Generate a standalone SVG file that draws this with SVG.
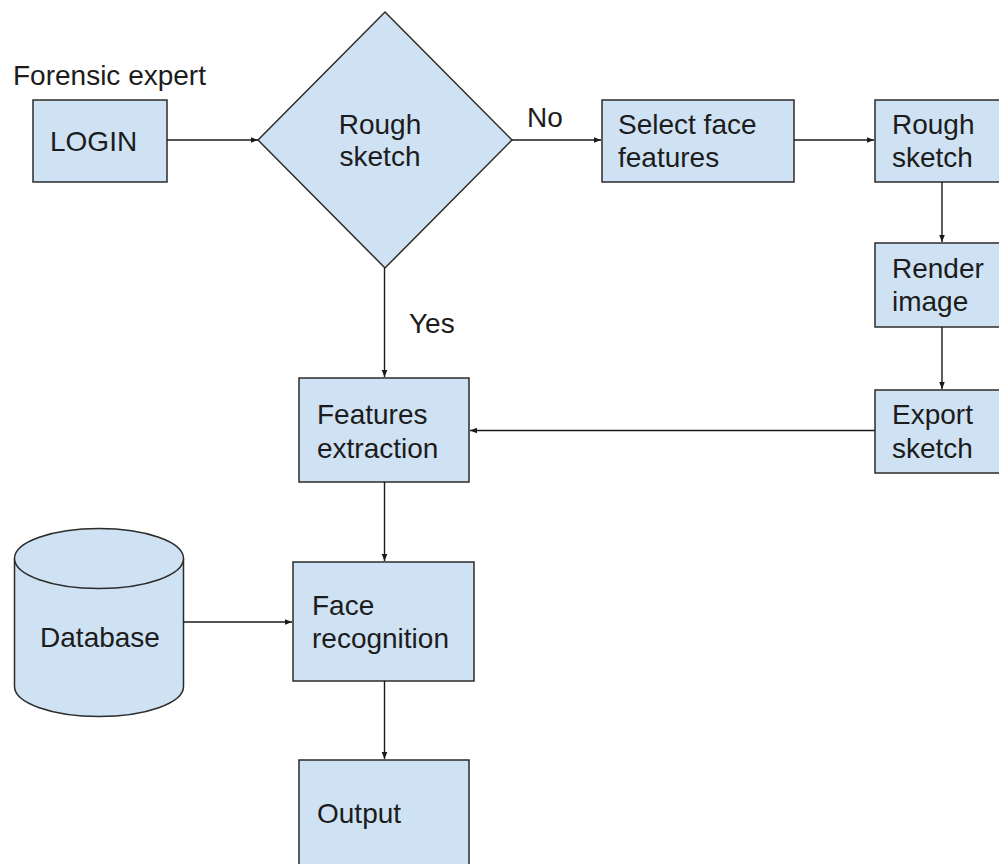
<svg xmlns="http://www.w3.org/2000/svg" width="999" height="864" viewBox="0 0 999 864">
<style>
.n{fill:#cfe2f3;stroke:#2b2b2b;stroke-width:1.5}
.t{font-family:"Liberation Sans",Arial,sans-serif;font-size:28px;fill:#1c1c1c}
.c{fill:none;stroke:#1a1a1a;stroke-width:1.4;marker-end:url(#a)}
</style>
<defs>
<marker id="a" viewBox="0 0 10 10" refX="10" refY="5" markerWidth="7" markerHeight="7" markerUnits="userSpaceOnUse" orient="auto">
<path d="M0,1 L10,5 L0,9 z" fill="#1a1a1a"/>
</marker>
</defs>
<rect width="999" height="864" fill="#fff"/>
<text class="t" x="13" y="85">Forensic expert</text>
<g id="login">
<rect class="n" x="33" y="100" width="134" height="82"/>
<text class="t" x="50" y="151">LOGIN</text>
</g>
<g id="decision">
<polygon class="n" points="385,12 512,140 385,268 258,140"/>
<text class="t" text-anchor="middle" x="380" y="134">Rough</text>
<text class="t" text-anchor="middle" x="380" y="166">sketch</text>
</g>
<g id="select">
<rect class="n" x="602" y="100" width="192" height="82"/>
<text class="t" x="618" y="134">Select face</text>
<text class="t" x="618" y="167">features</text>
</g>
<g id="rough2">
<rect class="n" x="875" y="100" width="126" height="82"/>
<text class="t" x="892" y="134">Rough</text>
<text class="t" x="892" y="167">sketch</text>
</g>
<g id="render">
<rect class="n" x="875" y="243" width="126" height="84"/>
<text class="t" x="892" y="278">Render</text>
<text class="t" x="892" y="311">image</text>
</g>
<g id="export">
<rect class="n" x="875" y="390" width="126" height="83"/>
<text class="t" x="892" y="424">Export</text>
<text class="t" x="892" y="458">sketch</text>
</g>
<g id="features">
<rect class="n" x="299" y="378" width="170" height="104"/>
<text class="t" x="317" y="424">Features</text>
<text class="t" x="317" y="458">extraction</text>
</g>
<g id="database">
<path class="n" d="M14.5,558.5 L14.5,686.5 A84.5,30 0 0 0 183.5,686.5 L183.5,558.5"/>
<ellipse class="n" cx="99" cy="558.5" rx="84.5" ry="30"/>
<text class="t" text-anchor="middle" x="100" y="647">Database</text>
</g>
<g id="face">
<rect class="n" x="293" y="562" width="181" height="119"/>
<text class="t" x="312" y="615">Face</text>
<text class="t" x="312" y="648">recognition</text>
</g>
<g id="output">
<rect class="n" x="299" y="760" width="170" height="110"/>
<text class="t" x="317" y="823">Output</text>
</g>
<g id="connectors">
<line class="c" x1="167" y1="140" x2="258" y2="140"/>
<line class="c" x1="512" y1="140" x2="601" y2="140"/>
<line class="c" x1="794" y1="140" x2="874" y2="140"/>
<line class="c" x1="942" y1="182" x2="942" y2="242"/>
<line class="c" x1="942" y1="327" x2="942" y2="389"/>
<line class="c" x1="875" y1="430.5" x2="470" y2="430.5"/>
<line class="c" x1="384.5" y1="268" x2="384.5" y2="377"/>
<line class="c" x1="384.5" y1="482" x2="384.5" y2="561"/>
<line class="c" x1="183.5" y1="622" x2="292" y2="622"/>
<line class="c" x1="384.5" y1="681" x2="384.5" y2="759"/>
<text class="t" x="527" y="127">No</text>
<text class="t" x="409" y="333">Yes</text>
</g>
</svg>
